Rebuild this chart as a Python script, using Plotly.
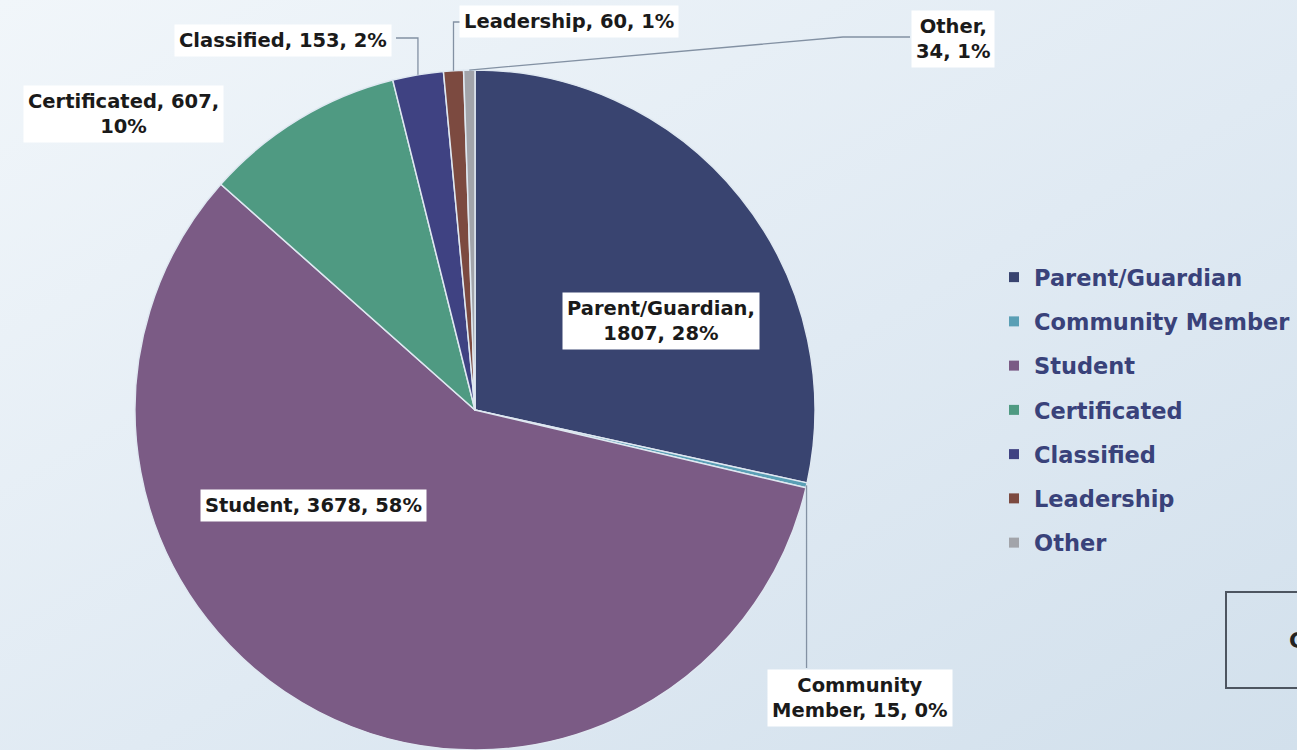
import math
import urllib.parse
import plotly.graph_objects as go

# ---- data ----
categories = ["Parent/Guardian", "Community Member", "Student", "Certificated",
              "Classified", "Leadership", "Other"]
counts = [1807, 15, 3678, 607, 153, 60, 34]
pct_labels = ["28%", "0%", "58%", "10%", "2%", "1%", "1%"]
colors = ["#394470", "#5a9fb5", "#7b5b85", "#4f9a82", "#3f4282", "#7c4a40", "#a2a4aa"]

W, H = 1297, 750
FONT = "DejaVu Sans"

def px(x):
    return x / W

def py(y):
    return 1 - y / H

# pie geometry (pixels)
CX, CY, R = 475, 410, 340

fig = go.Figure()

# background gradient
svg = ('<svg xmlns="http://www.w3.org/2000/svg" width="1297" height="750">'
       '<defs><linearGradient id="g" x1="0" y1="0" x2="1" y2="1">'
       '<stop offset="0" stop-color="#f1f6fa"/>'
       '<stop offset="0.55" stop-color="#e0eaf3"/>'
       '<stop offset="1" stop-color="#d2e0ec"/>'
       '</linearGradient></defs>'
       '<rect width="1297" height="750" fill="url(#g)"/></svg>')
bg_src = "data:image/svg+xml;charset=utf-8," + urllib.parse.quote(svg)

fig.add_trace(go.Pie(
    labels=categories,
    values=counts,
    sort=False,
    direction="clockwise",
    rotation=0,
    marker=dict(colors=colors, line=dict(color="#dfe8f1", width=1.5)),
    textinfo="none",
    hoverinfo="label+value+percent",
    showlegend=False,
    domain=dict(x=[px(CX - R), px(CX + R)], y=[py(CY + R), py(CY - R)]),
))

# legend entries
for i, (c, col) in enumerate(zip(categories, colors)):
    fig.add_trace(go.Scatter(
        x=[None], y=[None], mode="markers", name="<b>" + c + "</b>",
        marker=dict(symbol="square", size=10, color=col),
        legendgroup=c, showlegend=True,
    ))

# data label boxes
total = sum(counts)
label_text = {
    "Parent/Guardian": "Parent/Guardian,<br>{v}, {p}",
    "Community Member": "Community<br>Member, {v}, {p}",
    "Student": "Student, {v}, {p}",
    "Certificated": "Certificated, {v},<br>{p}",
    "Classified": "Classified, {v}, {p}",
    "Leadership": "Leadership, {v}, {p}",
    "Other": "Other,<br>{v}, {p}",
}
label_pos = {
    "Parent/Guardian": (661, 321),
    "Community Member": (860, 698),
    "Student": (313, 505),
    "Certificated": (123, 114),
    "Classified": (283, 40),
    "Leadership": (569, 22),
    "Other": (953, 39),
}
annotations = []
for c, v, p in zip(categories, counts, pct_labels):
    x, y = label_pos[c]
    annotations.append(dict(
        x=px(x), y=py(y), xref="paper", yref="paper",
        text="<b>" + label_text[c].format(v=v, p=p) + "</b>",
        showarrow=False, bgcolor="white", borderpad=4,
        font=dict(family=FONT, size=19.5, color="#1a1a1a"),
        xanchor="center", yanchor="middle", align="center",
    ))

# leader lines from slice mid-angles
cum = 0
edge = {}
for c, v in zip(categories, counts):
    mid = (cum + v / 2) / total * 2 * math.pi
    edge[c] = (CX + R * math.sin(mid), CY - R * math.cos(mid))
    cum += v

shapes = []
def path(points):
    d = "M " + " L ".join(f"{px(x)},{py(y)}" for x, y in points)
    return dict(type="path", path=d, xref="paper", yref="paper",
                line=dict(color="#8391a3", width=1.3), layer="above")

ex, ey = edge["Classified"]
shapes.append(path([(396, 38), (ex, 38), (ex, ey)]))
ex, ey = edge["Leadership"]
shapes.append(path([(460, 22), (ex, 22), (ex, ey)]))
ex, ey = edge["Other"]
shapes.append(path([(910, 37), (843, 37), (ex, ey)]))
ex, ey = edge["Community Member"]
shapes.append(path([(ex, 668), (ex, ey)]))

# partially visible box at bottom right
shapes.append(dict(type="rect", xref="paper", yref="paper",
                   x0=px(1226), x1=px(1330), y0=py(688), y1=py(592),
                   line=dict(color="#4d5560", width=2), fillcolor="rgba(0,0,0,0)"))
annotations.append(dict(x=px(1287), y=py(640), xref="paper", yref="paper",
                        text="<b>C</b>", showarrow=False, xanchor="left",
                        yanchor="middle",
                        font=dict(family=FONT, size=22, color="#222")))

fig.update_layout(
    width=W, height=H,
    margin=dict(l=0, r=0, t=0, b=0),
    paper_bgcolor="#e3ecf4",
    plot_bgcolor="rgba(0,0,0,0)",
    images=[dict(source=bg_src, xref="paper", yref="paper", x=0, y=1,
                 sizex=1, sizey=1, xanchor="left", yanchor="top",
                 sizing="stretch", layer="below")],
    xaxis=dict(visible=False), yaxis=dict(visible=False),
    showlegend=True,
    legend=dict(x=px(994), y=py(256), xanchor="left", yanchor="top",
                traceorder="grouped", tracegroupgap=12,
                font=dict(family=FONT, size=22.5, color="#39427a"),
                bgcolor="rgba(0,0,0,0)", itemclick=False),
    annotations=annotations,
    shapes=shapes,
)

fig.write_html("out.html", config={"displayModeBar": False},
               post_script="document.body.style.margin='0';document.body.style.overflow='hidden';")
